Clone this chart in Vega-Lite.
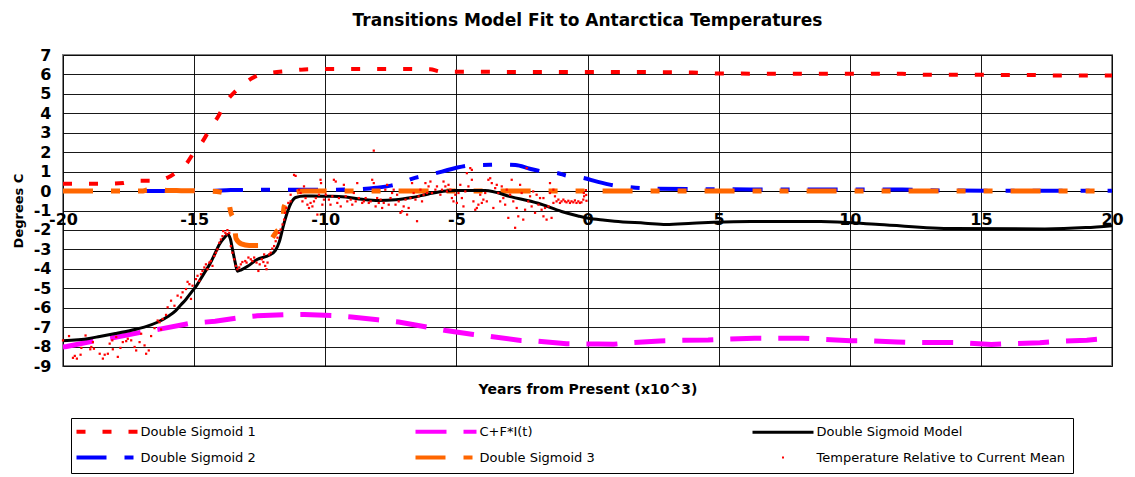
{
  "$schema": "https://vega.github.io/schema/vega-lite/v6.json",
  "width": 1049,
  "height": 311,
  "autosize": {"type": "none"},
  "padding": {"left": 63, "top": 55, "right": 23, "bottom": 111},
  "background": "white",
  "title": {"text": "Transitions Model Fit to Antarctica Temperatures", "font": "DejaVu Sans", "fontSize": 17, "fontWeight": "bold", "color": "#000000", "anchor": "middle", "frame": "group", "offset": 4, "baseline": "alphabetic"},
  "config": {
    "view": {"stroke": "#808080", "strokeWidth": 2},
    "font": "DejaVu Sans"
  },
  "datasets": {
    "ds1": [
      {"x": -20, "y": 0.37}, {"x": -18.5, "y": 0.37}, {"x": -17.7, "y": 0.41}, {"x": -17.4, "y": 0.53}, {"x": -16.5, "y": 0.53},
      {"x": -16.0, "y": 0.7}, {"x": -15.6, "y": 1.05}, {"x": -15.3, "y": 1.4}, {"x": -15.0, "y": 2.0}, {"x": -14.7, "y": 2.5},
      {"x": -14.35, "y": 3.3}, {"x": -14.1, "y": 3.8}, {"x": -13.75, "y": 4.65}, {"x": -13.45, "y": 5.1}, {"x": -13.1, "y": 5.5},
      {"x": -12.8, "y": 5.8}, {"x": -12.45, "y": 6.0}, {"x": -12.0, "y": 6.1}, {"x": -11.5, "y": 6.17}, {"x": -10.8, "y": 6.26},
      {"x": -10, "y": 6.28}, {"x": -7, "y": 6.28}, {"x": -6, "y": 6.27}, {"x": -5.6, "y": 6.15}, {"x": -3, "y": 6.13},
      {"x": 0, "y": 6.12}, {"x": 2, "y": 6.12}, {"x": 4, "y": 6.1}, {"x": 5, "y": 6.05}, {"x": 9, "y": 6.03},
      {"x": 12, "y": 6.03}, {"x": 12.5, "y": 5.99}, {"x": 17, "y": 5.97}, {"x": 17.5, "y": 5.94}, {"x": 20, "y": 5.94}
    ],
    "ds2": [
      {"x": -20, "y": 0}, {"x": -14.5, "y": 0}, {"x": -13.6, "y": 0.05}, {"x": -12, "y": 0.07}, {"x": -10, "y": 0.07},
      {"x": -9, "y": 0.08}, {"x": -8.06, "y": 0.17}, {"x": -7.5, "y": 0.28}, {"x": -7.07, "y": 0.43}, {"x": -6.7, "y": 0.63},
      {"x": -6.06, "y": 0.83}, {"x": -5.55, "y": 1.0}, {"x": -5.0, "y": 1.2}, {"x": -4.41, "y": 1.33}, {"x": -3.7, "y": 1.35},
      {"x": -3.4, "y": 1.36}, {"x": -2.75, "y": 1.34}, {"x": -2.2, "y": 1.15}, {"x": -1.69, "y": 1.0}, {"x": -1.12, "y": 0.92},
      {"x": -0.82, "y": 0.8}, {"x": -0.16, "y": 0.68}, {"x": 0.4, "y": 0.47}, {"x": 0.98, "y": 0.3}, {"x": 1.62, "y": 0.2},
      {"x": 2.5, "y": 0.12}, {"x": 4, "y": 0.1}, {"x": 8, "y": 0.08}, {"x": 12, "y": 0.08}, {"x": 13, "y": 0.04},
      {"x": 16, "y": 0.02}, {"x": 20, "y": 0.02}
    ],
    "ds3": [
      {"x": -20, "y": 0}, {"x": -17, "y": 0}, {"x": -16.8, "y": 0.05}, {"x": -16.4, "y": 0.08}, {"x": -16, "y": 0.03},
      {"x": -15.5, "y": 0.02}, {"x": -14.5, "y": 0}, {"x": -14.0, "y": -0.05}, {"x": -13.8, "y": -0.15}, {"x": -13.7, "y": -0.45},
      {"x": -13.6, "y": -1.1}, {"x": -13.47, "y": -1.6}, {"x": -13.4, "y": -2.45}, {"x": -13.2, "y": -2.72}, {"x": -12.9, "y": -2.8},
      {"x": -12.33, "y": -2.8}, {"x": -12.1, "y": -2.55}, {"x": -11.84, "y": -2.06}, {"x": -11.63, "y": -1.72}, {"x": -11.57, "y": -0.8},
      {"x": -11.38, "y": -0.44}, {"x": -11.1, "y": -0.05}, {"x": -10.8, "y": 0}, {"x": 20, "y": 0}
    ],
    "cfi": [
      {"x": -20, "y": -8.02}, {"x": -19.86, "y": -8.0}, {"x": -18.73, "y": -7.69}, {"x": -18.1, "y": -7.55}, {"x": -16.97, "y": -7.25},
      {"x": -16.26, "y": -7.09}, {"x": -15.12, "y": -6.8}, {"x": -14.2, "y": -6.7}, {"x": -13.3, "y": -6.52}, {"x": -12.6, "y": -6.42},
      {"x": -11.5, "y": -6.36}, {"x": -10.8, "y": -6.35}, {"x": -9.7, "y": -6.4}, {"x": -9.0, "y": -6.48}, {"x": -8.0, "y": -6.62},
      {"x": -7.2, "y": -6.74}, {"x": -6.1, "y": -7.0}, {"x": -5.4, "y": -7.17}, {"x": -4.35, "y": -7.38}, {"x": -3.7, "y": -7.48},
      {"x": -2.55, "y": -7.69}, {"x": -1.94, "y": -7.72}, {"x": -0.8, "y": -7.85}, {"x": 0.4, "y": -7.87}, {"x": 1.0, "y": -7.88},
      {"x": 1.62, "y": -7.8}, {"x": 2.75, "y": -7.71}, {"x": 3.45, "y": -7.68}, {"x": 4.6, "y": -7.66}, {"x": 5.28, "y": -7.62},
      {"x": 6.37, "y": -7.57}, {"x": 7.06, "y": -7.57}, {"x": 8.2, "y": -7.57}, {"x": 8.85, "y": -7.62}, {"x": 10.03, "y": -7.7},
      {"x": 10.68, "y": -7.7}, {"x": 11.8, "y": -7.76}, {"x": 12.5, "y": -7.79}, {"x": 13.6, "y": -7.79}, {"x": 14.3, "y": -7.8},
      {"x": 15.4, "y": -7.9}, {"x": 16.1, "y": -7.85}, {"x": 17.25, "y": -7.8}, {"x": 17.9, "y": -7.73}, {"x": 19.04, "y": -7.67},
      {"x": 20, "y": -7.57}
    ],
    "model": [
      {"x": -20, "y": -7.7}, {"x": -19, "y": -7.58}, {"x": -18.6, "y": -7.48}, {"x": -18, "y": -7.33}, {"x": -17.35, "y": -7.15},
      {"x": -16.9, "y": -7.0}, {"x": -16.4, "y": -6.75}, {"x": -16.0, "y": -6.45}, {"x": -15.7, "y": -6.15}, {"x": -15.5, "y": -5.85},
      {"x": -15.3, "y": -5.55}, {"x": -15.1, "y": -5.2}, {"x": -14.9, "y": -4.85}, {"x": -14.65, "y": -4.3}, {"x": -14.4, "y": -3.75},
      {"x": -14.2, "y": -3.2}, {"x": -14.04, "y": -2.75}, {"x": -13.85, "y": -2.4}, {"x": -13.72, "y": -2.24}, {"x": -13.62, "y": -2.45},
      {"x": -13.53, "y": -3.05}, {"x": -13.43, "y": -3.7}, {"x": -13.35, "y": -4.12}, {"x": -13.2, "y": -4.05}, {"x": -12.96, "y": -3.87},
      {"x": -12.6, "y": -3.52}, {"x": -12.14, "y": -3.3}, {"x": -11.9, "y": -3.05}, {"x": -11.75, "y": -2.6}, {"x": -11.6, "y": -1.8},
      {"x": -11.45, "y": -1.1}, {"x": -11.3, "y": -0.6}, {"x": -11.13, "y": -0.33}, {"x": -10.8, "y": -0.25}, {"x": -10.49, "y": -0.26},
      {"x": -9.74, "y": -0.27}, {"x": -9.22, "y": -0.31}, {"x": -8.59, "y": -0.42}, {"x": -7.96, "y": -0.48}, {"x": -7.32, "y": -0.45},
      {"x": -6.69, "y": -0.33}, {"x": -6.06, "y": -0.15}, {"x": -5.4, "y": 0.0}, {"x": -5.04, "y": 0.03}, {"x": -3.9, "y": 0.03},
      {"x": -2.9, "y": -0.3}, {"x": -1.88, "y": -0.63}, {"x": -0.99, "y": -1.05}, {"x": -0.36, "y": -1.28}, {"x": 0.03, "y": -1.4},
      {"x": 0.67, "y": -1.5}, {"x": 1.03, "y": -1.55}, {"x": 2.2, "y": -1.65}, {"x": 3.0, "y": -1.72}, {"x": 4.0, "y": -1.65},
      {"x": 4.82, "y": -1.6}, {"x": 6.22, "y": -1.56}, {"x": 8.89, "y": -1.56}, {"x": 11.13, "y": -1.72}, {"x": 13.94, "y": -1.93},
      {"x": 17.44, "y": -1.95}, {"x": 19.0, "y": -1.88}, {"x": 20, "y": -1.78}
    ],
    "temp": [
      {"x": -20.0, "y": -7.68}, {"x": -19.77, "y": -7.46}, {"x": -19.55, "y": -8.48}, {"x": -19.62, "y": -8.58}, {"x": -19.47, "y": -8.62},
      {"x": -19.33, "y": -8.42}, {"x": -19.14, "y": -7.43}, {"x": -19.3, "y": -8.07}, {"x": -18.92, "y": -8.02}, {"x": -18.96, "y": -8.14},
      {"x": -18.82, "y": -8.11}, {"x": -18.86, "y": -7.77}, {"x": -18.6, "y": -8.37}, {"x": -18.48, "y": -8.62}, {"x": -18.41, "y": -8.42},
      {"x": -18.29, "y": -8.37}, {"x": -18.22, "y": -7.85}, {"x": -18.12, "y": -7.68}, {"x": -18.1, "y": -8.14}, {"x": -17.97, "y": -7.51},
      {"x": -17.91, "y": -8.53}, {"x": -17.81, "y": -8.07}, {"x": -17.72, "y": -7.77}, {"x": -17.59, "y": -7.72}, {"x": -17.53, "y": -7.6},
      {"x": -17.4, "y": -7.68}, {"x": -17.27, "y": -8.02}, {"x": -17.21, "y": -8.2}, {"x": -17.08, "y": -7.77}, {"x": -17.02, "y": -7.34},
      {"x": -16.89, "y": -7.94}, {"x": -16.83, "y": -8.37}, {"x": -16.73, "y": -8.2}, {"x": -16.64, "y": -7.46}, {"x": -16.51, "y": -7.05},
      {"x": -16.39, "y": -6.66}, {"x": -16.32, "y": -6.75}, {"x": -16.07, "y": -6.37}, {"x": -16.01, "y": -5.98}, {"x": -16.2, "y": -6.58},
      {"x": -16.26, "y": -7.12},
      {"x": -15.88, "y": -5.64}, {"x": -15.75, "y": -5.9}, {"x": -15.63, "y": -5.38}, {"x": -15.5, "y": -5.47}, {"x": -15.44, "y": -5.21},
      {"x": -15.31, "y": -5.04}, {"x": -15.25, "y": -4.67}, {"x": -15.18, "y": -4.79}, {"x": -15.12, "y": -5.55}, {"x": -15.06, "y": -4.87},
      {"x": -14.93, "y": -4.53}, {"x": -14.87, "y": -4.36}, {"x": -14.8, "y": -4.62}, {"x": -14.74, "y": -4.28}, {"x": -14.68, "y": -4.11},
      {"x": -14.61, "y": -3.93}, {"x": -14.55, "y": -3.77}, {"x": -14.49, "y": -4.02}, {"x": -14.42, "y": -3.68}, {"x": -14.36, "y": -3.6},
      {"x": -14.3, "y": -3.85}, {"x": -14.23, "y": -3.34}, {"x": -14.17, "y": -3.17}, {"x": -14.11, "y": -3.0}, {"x": -14.04, "y": -2.66},
      {"x": -13.98, "y": -2.49}, {"x": -13.92, "y": -2.32}, {"x": -13.89, "y": -2.06}, {"x": -13.81, "y": -2.15}, {"x": -13.73, "y": -2.01},
      {"x": -13.66, "y": -2.15}, {"x": -13.76, "y": -2.23}, {"x": -13.6, "y": -2.83}, {"x": -13.54, "y": -3.17}, {"x": -13.47, "y": -3.51},
      {"x": -13.41, "y": -3.85}, {"x": -13.35, "y": -4.02}, {"x": -13.28, "y": -3.93}, {"x": -13.22, "y": -3.77}, {"x": -13.16, "y": -3.65},
      {"x": -13.05, "y": -3.6}, {"x": -13.0, "y": -3.68}, {"x": -12.93, "y": -3.42}, {"x": -12.84, "y": -3.51}, {"x": -12.78, "y": -3.6},
      {"x": -12.71, "y": -3.42}, {"x": -12.62, "y": -3.68}, {"x": -12.55, "y": -4.11}, {"x": -12.5, "y": -3.77}, {"x": -12.42, "y": -3.51},
      {"x": -12.36, "y": -3.65}, {"x": -12.29, "y": -3.85}, {"x": -12.24, "y": -4.02}, {"x": -12.2, "y": -3.68}, {"x": -12.33, "y": -3.26},
      {"x": -12.14, "y": -3.26}, {"x": -12.08, "y": -3.17}, {"x": -12.02, "y": -2.96}, {"x": -11.95, "y": -2.83}, {"x": -11.89, "y": -2.58},
      {"x": -11.82, "y": -2.4}, {"x": -11.76, "y": -2.15}, {"x": -11.7, "y": -1.98}, {"x": -11.63, "y": -1.72}, {"x": -11.57, "y": -1.47},
      {"x": -11.53, "y": -1.12}, {"x": -11.48, "y": -0.87}, {"x": -11.41, "y": -0.61}, {"x": -11.32, "y": -0.53},
      {"x": -11.32, "y": -0.19}, {"x": -11.19, "y": 0.83}, {"x": -11.13, "y": 0.78}, {"x": -11.0, "y": 0.07}, {"x": -10.94, "y": -0.1},
      {"x": -10.87, "y": -0.53}, {"x": -10.81, "y": 0.24}, {"x": -10.75, "y": -0.36}, {"x": -10.68, "y": -0.7}, {"x": -10.62, "y": -0.87},
      {"x": -10.56, "y": -0.61}, {"x": -10.49, "y": -0.79}, {"x": -10.43, "y": -0.53}, {"x": -10.36, "y": -0.36}, {"x": -10.3, "y": -1.21},
      {"x": -10.24, "y": -0.19}, {"x": -10.18, "y": 0.58}, {"x": -10.16, "y": 0.41}, {"x": -10.11, "y": -0.7}, {"x": -10.05, "y": -0.44},
      {"x": -9.98, "y": -0.19}, {"x": -9.86, "y": -0.44}, {"x": -9.8, "y": -0.7}, {"x": -9.73, "y": -0.27}, {"x": -9.67, "y": 0.58},
      {"x": -9.6, "y": 0.49}, {"x": -9.54, "y": -0.61}, {"x": -9.48, "y": -0.36}, {"x": -9.41, "y": -0.79}, {"x": -9.29, "y": 0.32},
      {"x": -9.22, "y": -0.27}, {"x": -9.16, "y": -0.53}, {"x": -9.03, "y": -0.44}, {"x": -8.97, "y": -0.7}, {"x": -8.91, "y": -0.1},
      {"x": -8.84, "y": -0.53}, {"x": -8.78, "y": 0.41}, {"x": -8.72, "y": -0.36}, {"x": -8.59, "y": -0.61}, {"x": -8.53, "y": -0.53},
      {"x": -8.46, "y": -0.36}, {"x": -8.34, "y": -0.61}, {"x": -8.27, "y": -0.53}, {"x": -8.21, "y": 0.58}, {"x": -8.15, "y": 0.41},
      {"x": -8.08, "y": -0.79}, {"x": -8.02, "y": -0.36}, {"x": -7.96, "y": -0.61}, {"x": -7.89, "y": -0.44}, {"x": -7.83, "y": -0.87},
      {"x": -7.77, "y": -0.61}, {"x": -7.71, "y": 0.07}, {"x": -7.64, "y": 0.32}, {"x": -7.58, "y": -0.7}, {"x": -7.51, "y": -0.36},
      {"x": -7.45, "y": -0.1}, {"x": -7.39, "y": 0.07}, {"x": -7.32, "y": -0.7}, {"x": -7.26, "y": -0.19}, {"x": -7.2, "y": -0.53},
      {"x": -7.13, "y": -1.12}, {"x": -7.07, "y": -1.04}, {"x": -7.01, "y": -0.79}, {"x": -6.94, "y": -0.44}, {"x": -6.88, "y": -1.21},
      {"x": -6.82, "y": -0.87}, {"x": -6.75, "y": -0.36}, {"x": -6.69, "y": 0.41}, {"x": -6.63, "y": -0.1}, {"x": -6.56, "y": -0.44},
      {"x": -6.5, "y": -1.55}, {"x": -6.44, "y": -0.27}, {"x": -6.37, "y": 0.07}, {"x": -6.31, "y": -0.53}, {"x": -6.25, "y": -0.19},
      {"x": -6.18, "y": 0.41}, {"x": -6.12, "y": -0.1}, {"x": -6.06, "y": 0.24}, {"x": -8.15, "y": 2.08},
      {"x": -5.99, "y": 0.49}, {"x": -5.93, "y": -0.1}, {"x": -5.8, "y": 0.07}, {"x": -5.74, "y": 0.24}, {"x": -5.61, "y": -0.19},
      {"x": -5.55, "y": 0.07}, {"x": -5.49, "y": 0.49}, {"x": -5.42, "y": 0.24}, {"x": -5.36, "y": -0.02}, {"x": -5.3, "y": 0.32},
      {"x": -5.23, "y": 0.07}, {"x": -5.17, "y": -0.36}, {"x": -5.11, "y": -0.53}, {"x": -5.04, "y": -0.19}, {"x": -4.98, "y": -0.61},
      {"x": -4.92, "y": -0.1}, {"x": -4.85, "y": 0.32}, {"x": -4.79, "y": -0.36}, {"x": -4.73, "y": -0.79}, {"x": -4.66, "y": -0.02},
      {"x": -4.6, "y": 0.92}, {"x": -4.54, "y": 0.24}, {"x": -4.47, "y": 1.18}, {"x": -4.41, "y": 0.58}, {"x": -4.35, "y": -0.53},
      {"x": -4.28, "y": -0.96}, {"x": -4.22, "y": -0.87}, {"x": -4.16, "y": -0.7}, {"x": -4.09, "y": -0.19}, {"x": -4.03, "y": -0.61},
      {"x": -3.97, "y": -0.44}, {"x": -3.9, "y": -0.1}, {"x": -3.84, "y": -0.53}, {"x": -3.78, "y": 0.58}, {"x": -3.71, "y": 0.66},
      {"x": -3.65, "y": 0.41}, {"x": -3.59, "y": -0.87}, {"x": -3.52, "y": 0.15}, {"x": -3.46, "y": 0.32}, {"x": -3.4, "y": -0.1},
      {"x": -3.33, "y": -0.53}, {"x": -3.27, "y": 0.24}, {"x": -3.21, "y": -0.36}, {"x": -3.14, "y": -0.7}, {"x": -3.08, "y": 0.07},
      {"x": -3.02, "y": -1.38}, {"x": -2.95, "y": -0.19}, {"x": -2.89, "y": 0.58}, {"x": -2.83, "y": -0.53}, {"x": -2.76, "y": -1.89},
      {"x": -2.7, "y": -0.87}, {"x": -2.64, "y": -1.3}, {"x": -2.57, "y": 0.32}, {"x": -2.51, "y": -0.1}, {"x": -2.45, "y": -1.47},
      {"x": -2.38, "y": -0.96}, {"x": -2.32, "y": 1.18}, {"x": -2.26, "y": -0.53}, {"x": -2.19, "y": -0.27}, {"x": -2.13, "y": -0.79},
      {"x": -2.07, "y": -0.02}, {"x": -2.0, "y": -1.12}, {"x": -1.94, "y": -0.19}, {"x": -1.87, "y": -0.7}, {"x": -1.81, "y": -0.36},
      {"x": -1.75, "y": -0.96}, {"x": -1.68, "y": -1.3}, {"x": -1.62, "y": -0.87}, {"x": -1.56, "y": -1.47}, {"x": -1.49, "y": -0.79},
      {"x": -1.43, "y": -0.1}, {"x": -1.37, "y": -1.38}, {"x": -1.3, "y": -0.61}, {"x": -1.24, "y": -0.27}, {"x": -1.18, "y": -0.53},
      {"x": -1.11, "y": -0.44}, {"x": -1.05, "y": -0.61}, {"x": -0.99, "y": -0.53}, {"x": -0.92, "y": -0.44}, {"x": -0.86, "y": -0.53},
      {"x": -0.8, "y": -0.58}, {"x": -0.73, "y": -0.5}, {"x": -0.67, "y": -0.61}, {"x": -0.61, "y": -0.53}, {"x": -0.54, "y": -0.58},
      {"x": -0.48, "y": -0.48}, {"x": -0.42, "y": -0.61}, {"x": -0.35, "y": -0.53}, {"x": -0.29, "y": -0.61}, {"x": -0.23, "y": -0.58},
      {"x": -0.16, "y": -0.44}, {"x": -0.14, "y": -0.1}, {"x": -0.13, "y": -0.27}, {"x": -1.43, "y": 0.41}, {"x": -1.3, "y": 0.07},
      {"x": -1.68, "y": -0.36}, {"x": -4.41, "y": 1.09}, {"x": -0.06, "y": 0.05}, {"x": -0.05, "y": -0.2}, {"x": -0.04, "y": -0.5}
    ]
  },
  "encoding": {
    "x": {"field": "x", "type": "quantitative", "scale": {"domain": [-20, 20], "nice": false, "zero": false}, "axis": null},
    "y": {
      "field": "y", "type": "quantitative",
      "scale": {"domain": [-9, 7], "nice": false, "zero": false},
      "axis": {
        "title": "Degrees C", "titleFont": "DejaVu Sans", "titleFontSize": 13, "titleFontWeight": "bold", "titleColor": "#000000", "titlePadding": 8,
        "values": [-9, -8, -7, -6, -5, -4, -3, -2, -1, 0, 1, 2, 3, 4, 5, 6, 7],
        "labelExpr": "datum.value < 0 ? '-' + abs(datum.value) : '' + datum.value",
        "labelFont": "DejaVu Sans", "labelFontSize": 16, "labelFontWeight": "bold", "labelColor": "#000000", "labelPadding": 12,
        "labelFlush": false, "labelOverlap": false,
        "ticks": false, "tickSize": 0, "domain": false,
        "grid": true, "gridColor": "#000000", "gridWidth": 1, "gridOpacity": 0.9
      }
    }
  },
  "layer": [
    {
      "data": {"name": "ds1"},
      "mark": {"type": "line", "strokeWidth": 4, "strokeDash": [9, 17], "interpolate": "monotone", "strokeCap": "butt"},
      "encoding": {
        "x": {
          "field": "x", "type": "quantitative", "scale": {"domain": [-20, 20], "nice": false, "zero": false},
          "axis": {
            "orient": "bottom", "offset": -175,
            "values": [-20, -15, -10, -5, 0, 5, 10, 15, 20],
            "labelExpr": "datum.value < 0 ? '-' + abs(datum.value) : '' + datum.value",
            "title": "Years from Present (x10^3)", "titleFont": "DejaVu Sans", "titleFontSize": 14, "titleFontWeight": "bold", "titleColor": "#000000", "titlePadding": 155,
            "labelFont": "DejaVu Sans", "labelFontSize": 16, "labelFontWeight": "bold", "labelColor": "#000000", "labelPadding": 20,
            "labelFlush": false, "labelOverlap": false,
            "ticks": false, "tickSize": 0, "domain": true, "domainColor": "#000000", "domainWidth": 1, "grid": false
          }
        },
        "color": {
          "datum": "Double Sigmoid 1", "type": "nominal",
          "scale": {
            "domain": ["Double Sigmoid 1", "C+F*I(t)", "Double Sigmoid Model", "Double Sigmoid 2", "Double Sigmoid 3", "Temperature Relative to Current Mean"],
            "range": ["#FF0000", "#FF00FF", "#000000", "#0000FF", "#FF6600", "#FF0000"]
          },
          "legend": {
            "orient": "none", "legendX": 8, "legendY": 363, "direction": "horizontal", "columns": 3,
            "columnPadding": 151, "rowPadding": 9, "padding": 7, "strokeColor": "#000000", "fillColor": "#FFFFFF",
            "title": null, "labelFont": "DejaVu Sans", "labelFontSize": 13, "labelColor": "#000000", "labelLimit": 400,
            "symbolSize": 100, "symbolStrokeWidth": 4, "symbolOffset": 22.5, "labelOffset": 27, "gridAlign": "each",
            "encode": {
              "symbols": {
                "update": {
                  "shape": {"signal": "datum.value === 'Temperature Relative to Current Mean' ? 'M-0.2,-0.2H0.2V0.2H-0.2Z' : 'M-6.1,0H6.1'"},
                  "strokeDash": {"signal": "datum.value === 'Double Sigmoid 1' ? [9,17] : datum.value === 'C+F*I(t)' ? [31,17] : (datum.value === 'Double Sigmoid 2' || datum.value === 'Double Sigmoid 3') ? [30,18,9,18] : [1,0]"},
                  "strokeWidth": {"signal": "datum.value === 'Double Sigmoid Model' ? 3 : datum.value === 'Temperature Relative to Current Mean' ? 0 : 4"},
                  "stroke": {"scale": "color", "field": "value"},
                  "fill": {"scale": "color", "field": "value"},
                  "opacity": {"value": 1}
                }
              }
            }
          }
        }
      }
    },
    {
      "data": {"name": "ds2"},
      "mark": {"type": "line", "strokeWidth": 4, "strokeDash": [30, 18, 9, 18], "interpolate": "monotone", "strokeCap": "butt"},
      "encoding": {
        "x": {
          "field": "x", "type": "quantitative", "scale": {"domain": [-20, 20], "nice": false, "zero": false},
          "axis": {
            "orient": "top", "values": [-20, -15, -10, -5, 0, 5, 10, 15, 20],
            "labels": false, "ticks": false, "domain": false, "title": null,
            "grid": true, "gridColor": "#000000", "gridWidth": 1, "gridOpacity": 0.9
          }
        },
        "color": {"datum": "Double Sigmoid 2", "type": "nominal"}
      }
    },
    {
      "data": {"name": "ds3"},
      "mark": {"type": "line", "strokeWidth": 5, "strokeDash": [30, 18, 9, 18, 9, 18], "interpolate": "monotone", "strokeCap": "butt"},
      "encoding": {
        "color": {"datum": "Double Sigmoid 3", "type": "nominal"}
      }
    },
    {
      "data": {"name": "cfi"},
      "mark": {"type": "line", "strokeWidth": 5, "strokeDash": [31, 17], "strokeCap": "butt"},
      "encoding": {
        "color": {"datum": "C+F*I(t)", "type": "nominal"}
      }
    },
    {
      "data": {"name": "model"},
      "mark": {"type": "line", "strokeWidth": 3, "interpolate": "monotone"},
      "encoding": {
        "color": {"datum": "Double Sigmoid Model", "type": "nominal"}
      }
    },
    {
      "data": {"name": "temp"},
      "mark": {"type": "square", "size": 5, "filled": true, "opacity": 1},
      "encoding": {
        "color": {"datum": "Temperature Relative to Current Mean", "type": "nominal"}
      }
    }
  ],
  "resolve": {"axis": {"x": "independent"}}
}
